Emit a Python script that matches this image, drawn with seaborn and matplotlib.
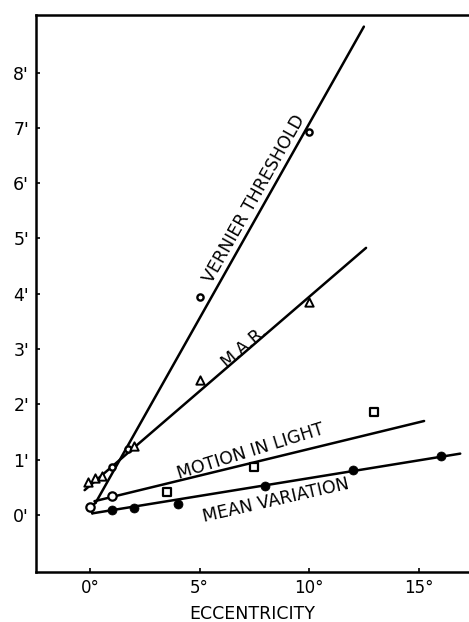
import numpy as np
import pandas as pd
import seaborn as sns
import matplotlib.pyplot as plt

# measured points (eccentricity in degrees, threshold in minutes of arc)
vernier_x = [1.0, 1.75, 5.0, 10.0]
vernier_y = [0.87, 1.2, 3.95, 6.92]
mar_x = [-0.08, 0.23, 0.53, 2.0, 5.0, 10.0]
mar_y = [0.60, 0.67, 0.70, 1.25, 2.45, 3.86]
motion_circ_x = [0.0, 1.0]
motion_circ_y = [0.14, 0.34]
motion_sq_x = [3.5, 7.5, 12.95]
motion_sq_y = [0.42, 0.87, 1.87]
meanvar_x = [1.0, 2.0, 4.0, 8.0, 12.0, 16.0]
meanvar_y = [0.09, 0.13, 0.20, 0.53, 0.81, 1.07]

# fitted straight lines (end points)
vernier_fit_x = [0.25, 12.5]
vernier_fit_y = [0.22, 8.83]
mar_fit_x = [-0.25, 12.6]
mar_fit_y = [0.45, 4.83]
motion_fit_x = [0.2, 15.25]
motion_fit_y = [0.25, 1.70]
meanvar_fit_x = [0.1, 16.9]
meanvar_fit_y = [0.03, 1.11]

x_ticks = [0, 5, 10, 15]
x_labels = ["0°", "5°", "10°", "15°"]
y_ticks = list(range(0, 9))
y_labels = [f"{v}'" for v in y_ticks]

sns.set_style("ticks")
plt.rcParams['font.family'] = ['DejaVu Sans']
for key in ["text.color", "axes.labelcolor", "xtick.color", "ytick.color"]:
    plt.rcParams[key] = "black"

fig = plt.figure(figsize=(4.69, 6.22), dpi=100)
ax = fig.add_axes([36 / 469, 50 / 622, 1 - 36 / 469, 557 / 622])

lw = 1.8
for fx, fy in [(vernier_fit_x, vernier_fit_y), (mar_fit_x, mar_fit_y),
               (motion_fit_x, motion_fit_y), (meanvar_fit_x, meanvar_fit_y)]:
    sns.lineplot(x=fx, y=fy, ax=ax, color="black", linewidth=lw)

# little joins down to the origin point
sns.lineplot(x=[0.0, 0.25], y=[0.14, 0.22], ax=ax, color="black", linewidth=lw)
sns.lineplot(x=[0.0, 0.1], y=[0.14, 0.03], ax=ax, color="black", linewidth=lw)

sns.scatterplot(x=vernier_x, y=vernier_y, ax=ax, marker="o", s=20,
                facecolor="white", edgecolor="black", linewidth=1.7, zorder=5)
sns.scatterplot(x=mar_x, y=mar_y, ax=ax, marker="^", s=36,
                facecolor="white", edgecolor="black", linewidth=1.4, zorder=5)
sns.scatterplot(x=motion_circ_x, y=motion_circ_y, ax=ax, marker="o", s=36,
                facecolor="white", edgecolor="black", linewidth=1.6, zorder=5)
sns.scatterplot(x=motion_sq_x, y=motion_sq_y, ax=ax, marker="s", s=26,
                facecolor="white", edgecolor="black", linewidth=1.6, zorder=5)
sns.scatterplot(x=meanvar_x, y=meanvar_y, ax=ax, marker="o", s=42,
                color="black", edgecolor="black", zorder=5)

def slope_deg(fx, fy):
    return np.degrees(np.arctan2(fy[1] - fy[0], fx[1] - fx[0]))

fs = 12.5
ax.text(7.5, 5.72, "VERNIER THRESHOLD", fontsize=fs, ha="center", va="center",
        rotation=slope_deg(vernier_fit_x, vernier_fit_y),
        transform_rotates_text=True, rotation_mode="anchor")
ax.text(7.0, 3.05, "M.A.R.", fontsize=fs, ha="center", va="center",
        rotation=slope_deg(mar_fit_x, mar_fit_y),
        transform_rotates_text=True, rotation_mode="anchor")
ax.text(7.35, 1.15, "MOTION IN LIGHT", fontsize=fs, ha="center", va="center",
        rotation=slope_deg(motion_fit_x, motion_fit_y) + 1.5,
        transform_rotates_text=True, rotation_mode="anchor")
ax.text(8.5, 0.26, "MEAN VARIATION", fontsize=fs, ha="center", va="center",
        rotation=slope_deg(meanvar_fit_x, meanvar_fit_y) + 1.5,
        transform_rotates_text=True, rotation_mode="anchor")

ax.set_xlim(-2.47, 17.3)
ax.set_ylim(-1.03, 9.04)
ax.set_xticks(x_ticks)
ax.set_xticklabels(x_labels, fontsize=12)
ax.set_yticks(y_ticks)
ax.set_yticklabels(y_labels, fontsize=12.5)
ax.tick_params(axis="both", direction="in", length=3, width=1.2, pad=5)
ax.set_xlabel("ECCENTRICITY", fontsize=12.5, labelpad=6)
ax.set_ylabel("")
for side in ["left", "bottom", "top"]:
    ax.spines[side].set_linewidth(1.8)
    ax.spines[side].set_color("black")
ax.spines["right"].set_visible(False)

fig.savefig("out.png", dpi=100)
